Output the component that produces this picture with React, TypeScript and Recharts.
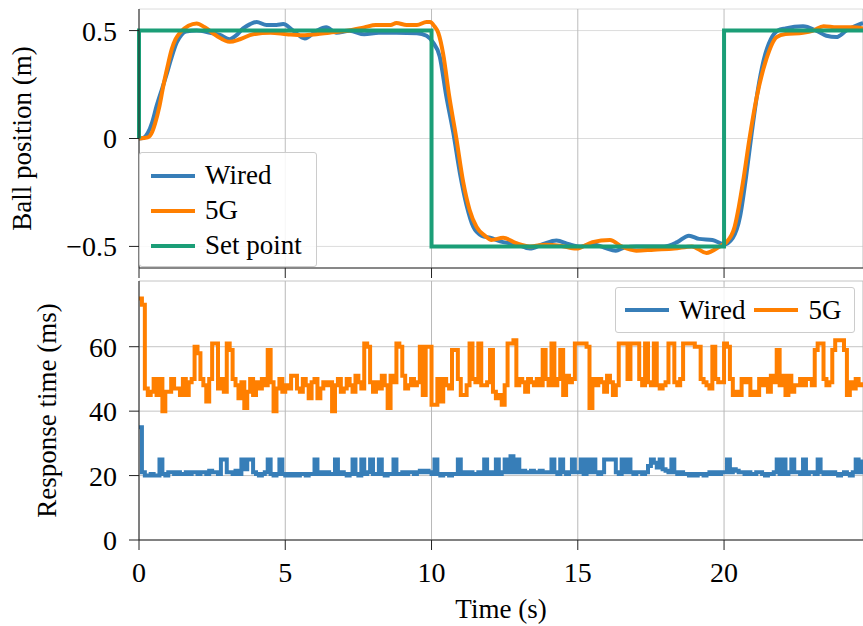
import { LineChart, Line, XAxis, YAxis, CartesianGrid } from "recharts";

const FONT = "Liberation Serif";
const BLUE = "#377eb8";
const ORANGE = "#ff7f00";
const GREEN = "#1b9e77";

const X_DOMAIN = [0, 24.75];
const X_TICKS = [0, 5, 10, 15, 20];
const POS_TICKS = [-0.5, 0, 0.5];
const RT_TICKS = [0, 20, 40, 60];

// ball position (m)
const wiredPosTime = [
  0, 0.15, 0.3, 0.45, 0.6, 0.8, 0.95, 1.1, 1.29, 1.45, 1.6, 1.97, 2.43, 2.77, 3.1, 3.3, 3.56, 3.8, 4.02, 4.36,
  4.7, 4.93, 5.27, 5.67, 6.07, 6.4, 6.75, 7.2, 7.7, 8.2, 8.8, 9.5, 9.83, 10.05, 10.28, 10.5, 10.74, 10.97, 11.2,
  11.43, 11.71, 12.0, 12.45, 12.9, 13.36, 13.8, 14.27, 14.7, 15.1, 15.5, 15.9, 16.3, 16.6, 17.0, 17.5, 17.95,
  18.4, 18.8, 19.15, 19.6, 20.0, 20.3, 20.55, 20.75, 20.95, 21.15, 21.35, 21.6, 21.84, 22.1, 22.7, 23.15, 23.5,
  23.84, 24.18, 24.64, 24.75,
];
const wiredPos = [
  0, 0.003, 0.025, 0.075, 0.15, 0.235, 0.3, 0.37, 0.445, 0.48, 0.495, 0.5, 0.49, 0.48, 0.46, 0.475, 0.51, 0.53,
  0.54, 0.526, 0.526, 0.53, 0.5, 0.463, 0.499, 0.515, 0.49, 0.499, 0.483, 0.49, 0.49, 0.488, 0.476, 0.445, 0.38,
  0.2, 0.03, -0.16, -0.31, -0.41, -0.45, -0.46, -0.48, -0.49, -0.51, -0.49, -0.473, -0.49, -0.5, -0.49, -0.505,
  -0.52, -0.505, -0.5, -0.5, -0.5, -0.48, -0.45, -0.465, -0.47, -0.49, -0.46, -0.36, -0.18, 0.03, 0.22, 0.36,
  0.46, 0.5, 0.51, 0.52, 0.5, 0.476, 0.47, 0.5, 0.53, 0.535,
];

const fiveGPosTime = [
  0, 0.3, 0.45, 0.55, 0.7, 0.83, 0.97, 1.12, 1.25, 1.4, 1.69, 1.97, 2.25, 2.65, 3.1, 3.45, 3.9, 4.5, 5.05, 5.6,
  6.07, 6.5, 7.1, 7.7, 8.1, 8.6, 8.8, 9.15, 9.5, 9.83, 9.95, 10.1, 10.23, 10.4, 10.6, 10.85, 11.08, 11.3, 11.54,
  11.82, 12.05, 12.45, 12.9, 13.36, 13.9, 14.4, 14.95, 15.5, 16.1, 16.5, 17.0, 17.6, 18.3, 18.9, 19.4, 19.85,
  20.08, 20.36, 20.5, 20.65, 20.87, 21.1, 21.45, 21.8, 22.1, 22.7, 23.05, 23.4, 23.85, 24.4, 24.75,
];
const fiveGPos = [
  0, 0.005, 0.03, 0.07, 0.15, 0.243, 0.33, 0.414, 0.46, 0.49, 0.522, 0.533, 0.515, 0.476, 0.448, 0.46, 0.483,
  0.49, 0.483, 0.478, 0.483, 0.49, 0.499, 0.515, 0.526, 0.526, 0.535, 0.526, 0.526, 0.54, 0.54, 0.52, 0.49, 0.39,
  0.2, 0.0, -0.2, -0.33, -0.41, -0.45, -0.47, -0.46, -0.485, -0.5, -0.492, -0.497, -0.51, -0.48, -0.47, -0.5,
  -0.52, -0.515, -0.51, -0.5, -0.53, -0.5, -0.48, -0.41, -0.32, -0.2, 0.0, 0.18, 0.37, 0.47, 0.484, 0.49, 0.5,
  0.52, 0.515, 0.515, 0.51,
];

const setPointTime = [0, 0, 10, 10, 20, 20, 24.75];
const setPoint = [0, 0.5, 0.5, -0.5, -0.5, 0.5, 0.5];

// response time (ms), one value every 0.1 s
const RT_STEP = 0.1;
const wiredRt = [
  35, 21, 20, 20, 20.5, 20, 20, 25, 20.5, 20,
  21, 21, 20.5, 21, 20.5, 20.5, 21, 20.5, 21, 21,
  20.5, 21, 21, 20.5, 21.5, 21, 21, 20.5, 25, 25,
  21, 21, 20.5, 21.5, 20.5, 25, 22, 25, 25, 21,
  20.5, 20, 20.5, 21, 25, 20.5, 20, 20.5, 25, 20.5,
  20, 20.5, 20, 20.5, 20, 20.5, 20.5, 20, 20.5, 20.5,
  25, 20.5, 21, 20.5, 21, 20.5, 20.5, 25, 20.5, 21,
  20.5, 20, 20.5, 25, 20.5, 20, 25, 20.5, 21, 25,
  20.5, 20.5, 25, 20.5, 20, 20.5, 20.5, 25, 20.5, 20.5,
  21, 20.5, 21, 21, 20.5, 21, 21.5, 21, 21.5, 21,
  20.5, 25, 20.5, 20, 20.5, 20.5, 20, 20.5, 20.5, 25,
  20.5, 21, 20.5, 21, 20.5, 20.5, 21, 20.5, 25, 20.5,
  21, 20.5, 25, 20.5, 21, 25, 21, 26, 21, 25,
  21, 21.5, 21, 21, 21.5, 21, 21, 21.5, 21, 21,
  21, 25, 21, 20.5, 25, 21, 20.5, 21, 25, 21,
  21, 25, 20.5, 25, 21, 25, 21, 20.5, 21, 25,
  25, 25, 25, 21, 20.5, 25, 21, 25, 21, 20.5,
  21, 21, 20.5, 21, 23, 25, 24, 22.5, 25, 22,
  21.5, 21, 25, 21, 20.5, 21, 20.5, 20.5, 20, 20.5,
  20, 20.5, 20.5, 20, 20.5, 21, 20.5, 21, 20.5, 21,
  21, 25, 21, 22, 21.5, 21, 21, 20.5, 21, 20.5,
  20.5, 21, 21, 20.5, 20, 20.5, 20.5, 21, 25, 20.5,
  25, 20.5, 21, 25, 21, 21, 20.5, 25, 20.5, 21,
  21, 20.5, 25, 21, 20.5, 21, 20.5, 21, 20.5, 20,
  20.5, 21, 20.5, 20, 21, 25, 21, 25,
];
const fiveGRt = [
  75, 73, 47, 45, 46, 50, 45, 50, 40, 46,
  46, 50, 47, 47, 45, 50, 45, 49, 50, 60,
  58, 50, 48, 43, 50, 61, 61, 47, 50, 46,
  61, 59, 50, 48, 44, 49, 41, 46, 50, 45,
  49, 47, 50, 48, 59, 49, 40, 47, 50, 46,
  48, 47, 51, 51, 47, 46, 50, 48, 44, 49,
  50, 44, 47, 49, 48, 49, 40, 48, 50, 46,
  47, 50, 48, 46, 51, 49, 47, 61, 60, 49,
  46, 49, 47, 51, 48, 41, 51, 49, 61, 60,
  51, 47, 48, 50, 48, 49, 60, 45, 60, 60,
  42, 42, 50, 43, 50, 48, 47, 59, 59, 50,
  45, 45, 48, 61, 50, 49, 61, 48, 48, 49,
  59, 46, 44, 45, 42, 48, 61, 61, 62, 48,
  50, 49, 46, 50, 49, 48, 50, 48, 59, 50,
  48, 61, 48, 50, 59, 45, 51, 49, 50, 61,
  61, 61, 61, 60, 41, 50, 48, 50, 49, 46,
  51, 49, 45, 48, 61, 61, 61, 50, 61, 61,
  61, 50, 48, 61, 49, 48, 61, 48, 47, 48,
  49, 61, 61, 49, 48, 50, 61, 61, 61, 61,
  60, 60, 50, 49, 48, 47, 60, 50, 49, 49,
  61, 60, 50, 45, 46, 45, 50, 49, 50, 45,
  46, 45, 50, 48, 50, 46, 51, 49, 59, 48,
  51, 45, 51, 46, 48, 48, 50, 48, 50, 50,
  48, 59, 61, 61, 50, 48, 49, 59, 62, 62,
  62, 59, 45, 49, 47, 50, 48, 49,
];

const toXY = (times: number[], values: number[]) => times.map((t, i) => ({ t, y: values[i] }));

const wiredPosData = toXY(wiredPosTime, wiredPos);
const fiveGPosData = toXY(fiveGPosTime, fiveGPos);
const setPointData = toXY(setPointTime, setPoint);
const rtData = wiredRt.map((w, i) => ({ t: Math.round(i * RT_STEP * 10) / 10, wired: w, fiveG: fiveGRt[i] }));

const fmtPos = (v: number) => (v < 0 ? `\u2212${Math.abs(v)}` : `${v}`);

const fontCss = { fontFamily: FONT };

// tick renderers with the font set inline
const YTick = ({ x, y, payload, fmt }: any) => (
  <text x={x} y={y} dy="0.355em" textAnchor="end" fontSize={28} fill="#000" style={fontCss}>
    {fmt ? fmt(payload.value) : payload.value}
  </text>
);
const XTick = ({ x, y, payload }: any) => (
  <text x={x} y={y} dy="0.71em" textAnchor="middle" fontSize={28} fill="#000" style={fontCss}>
    {payload.value}
  </text>
);

const YLabel = ({ viewBox, value, x }: any) => {
  const cy = viewBox.y + viewBox.height / 2;
  return (
    <text x={x} y={cy} dy="0.355em" transform={`rotate(-90, ${x}, ${cy})`} textAnchor="middle" fontSize={27} fill="#000" style={fontCss}>
      {value}
    </text>
  );
};
const XLabel = ({ viewBox }: any) => (
  <text x={viewBox.x + viewBox.width / 2} y={viewBox.y + viewBox.height - 8} textAnchor="middle" fontSize={27} fill="#000" style={fontCss}>
    Time (s)
  </text>
);

const Swatch = ({ color, width = 44 }: { color: string; width?: number }) => (
  <span style={{ display: "inline-block", width, height: 4, background: color, marginRight: 10 }} />
);

const App = () => {
  return (
    <div className="fig" style={{ position: "absolute", left: 0, top: 0, width: 863, height: 626, fontFamily: FONT, background: "#fff" }}>
      <style>{`.fig, .fig * { font-family: "Liberation Serif", serif !important; }`}</style>
      <div style={{ position: "absolute", left: 0, top: 275 }}>
        <LineChart width={863} height={351} data={rtData} margin={{ top: 6, right: 0, bottom: 0, left: 0 }}>
          <CartesianGrid horizontal vertical={false} stroke="#c4c4c4" />
          <CartesianGrid horizontal={false} vertical stroke="#b8b8b8" />
          <XAxis xAxisId="top" orientation="top" type="number" domain={X_DOMAIN} height={0} tick={false} tickLine={false} axisLine={{ stroke: "#555" }} />
          <XAxis
            dataKey="t"
            type="number"
            domain={X_DOMAIN}
            ticks={X_TICKS}
            height={86}
            tickSize={10}
            tickMargin={12}
            tick={<XTick />}
            axisLine={{ stroke: "#222" }}
            tickLine={{ stroke: "#222" }}
            label={{ content: (p: any) => <XLabel {...p} /> }}
          />
          <YAxis
            type="number"
            domain={[0, 80.4]}
            ticks={RT_TICKS}
            width={139}
            tickSize={10}
            tickMargin={12}
            tick={<YTick />}
            axisLine={{ stroke: "#222" }}
            tickLine={{ stroke: "#222" }}
            label={{ content: (p: any) => <YLabel {...p} x={46} value="Response time (ms)" /> }}
          />
          <Line type="stepAfter" dataKey="wired" stroke={BLUE} strokeWidth={4} dot={false} activeDot={false} isAnimationActive={false} />
          <Line type="stepAfter" dataKey="fiveG" stroke={ORANGE} strokeWidth={4} dot={false} activeDot={false} isAnimationActive={false} />
        </LineChart>
      </div>

      <div style={{ position: "absolute", left: 0, top: 0 }}>
        <LineChart width={863} height={281} margin={{ top: 9, right: 0, bottom: 0, left: 0 }}>
          <CartesianGrid horizontal vertical={false} stroke="#dcdcdc" />
          <CartesianGrid horizontal={false} vertical stroke="#bdbdbd" />
          <XAxis xAxisId="top" orientation="top" type="number" domain={X_DOMAIN} height={0} tick={false} tickLine={false} axisLine={{ stroke: "#666" }} />
          <XAxis
            dataKey="t"
            type="number"
            domain={X_DOMAIN}
            ticks={X_TICKS}
            height={13}
            tickSize={10}
            tickFormatter={() => ""}
            axisLine={{ stroke: "#222" }}
            tickLine={{ stroke: "#222" }}
          />
          <YAxis
            type="number"
            domain={[-0.6, 0.6]}
            ticks={POS_TICKS}
            width={139}
            tickSize={10}
            tickMargin={12}
            tick={<YTick fmt={fmtPos} />}
            axisLine={{ stroke: "#222" }}
            tickLine={{ stroke: "#222" }}
            label={{ content: (p: any) => <YLabel {...p} x={21} value="Ball position (m)" /> }}
          />
          <Line data={wiredPosData} type="monotone" dataKey="y" stroke={BLUE} strokeWidth={4} dot={false} activeDot={false} isAnimationActive={false} />
          <Line data={fiveGPosData} type="monotone" dataKey="y" stroke={ORANGE} strokeWidth={4} dot={false} activeDot={false} isAnimationActive={false} />
          <Line data={setPointData} type="linear" dataKey="y" stroke={GREEN} strokeWidth={4} dot={false} activeDot={false} isAnimationActive={false} />
        </LineChart>
      </div>

      <div
        style={{
          position: "absolute",
          left: 139,
          top: 152,
          width: 178,
          height: 115,
          border: "1px solid #cccccc",
          borderRadius: 3,
          background: "rgba(255,255,255,0.85)",
          paddingTop: 5,
          boxSizing: "border-box",
          fontSize: 27,
        }}
      >
        {[
          { name: "Wired", color: BLUE },
          { name: "5G", color: ORANGE },
          { name: "Set point", color: GREEN },
        ].map((item) => (
          <div key={item.name} style={{ display: "flex", alignItems: "center", height: 35, paddingLeft: 11 }}>
            <Swatch color={item.color} />
            <span style={fontCss}>{item.name}</span>
          </div>
        ))}
      </div>

      <div
        style={{
          position: "absolute",
          left: 615,
          top: 287,
          width: 240,
          height: 46,
          border: "1px solid #cccccc",
          borderRadius: 3,
          background: "rgba(255,255,255,0.85)",
          boxSizing: "border-box",
          display: "flex",
          alignItems: "center",
          paddingLeft: 9,
          fontSize: 27,
        }}
      >
        <Swatch color={BLUE} />
        <span style={{ ...fontCss, marginRight: 9 }}>Wired</span>
        <Swatch color={ORANGE} />
        <span style={fontCss}>5G</span>
      </div>
    </div>
  );
};

export default App;
